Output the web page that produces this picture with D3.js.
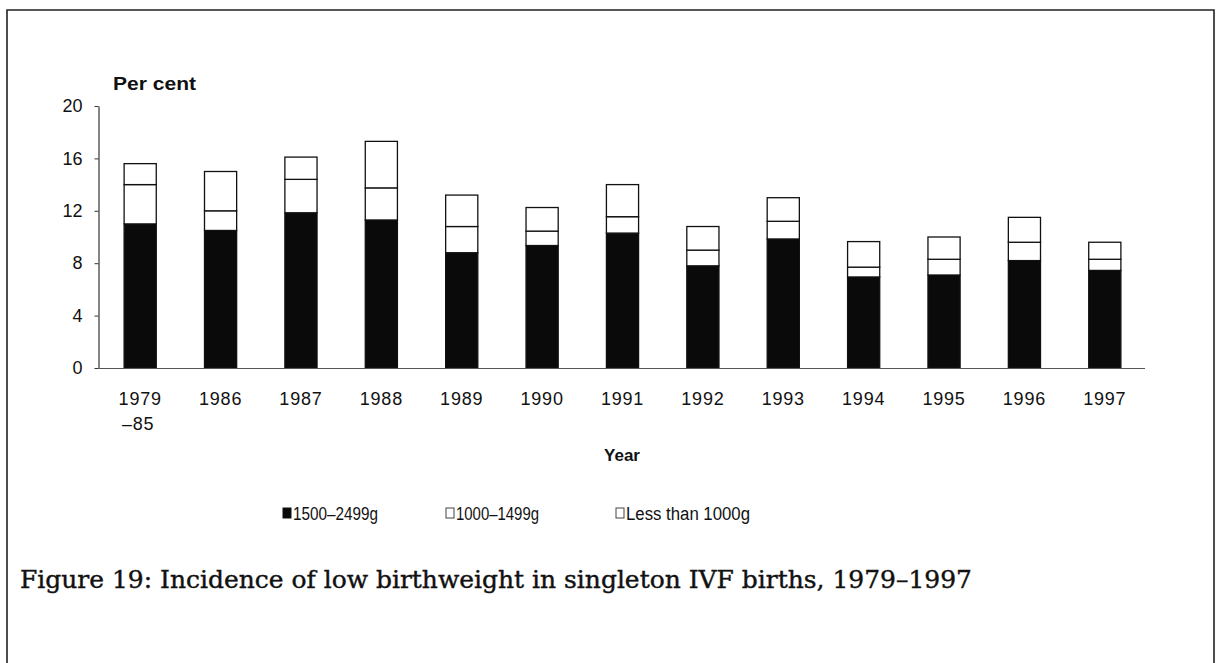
<!DOCTYPE html>
<html>
<head>
<meta charset="utf-8">
<script src="https://cdn.jsdelivr.net/npm/d3@7"></script>
<style>
html,body{margin:0;padding:0;background:#fff;}
svg{display:block;}
</style>
</head>
<body>
<svg id="chart" width="1216" height="663"></svg>
<script>
// ---- data ----
const categories = ["1979–85","1986","1987","1988","1989","1990","1991","1992","1993","1994","1995","1996","1997"];
const tickLines = [["1979","–85"],["1986"],["1987"],["1988"],["1989"],["1990"],["1991"],["1992"],["1993"],["1994"],["1995"],["1996"],["1997"]];
const seriesNames = ["1500–2499g","1000–1499g","Less than 1000g"];
const w1500_2499 = [11.0,10.5,11.85,11.3,8.8,9.35,10.3,7.8,9.85,6.95,7.1,8.2,7.45];
const w1000_1499 = [3.0,1.5,2.55,2.45,2.0,1.1,1.25,1.2,1.35,0.75,1.2,1.4,0.85];
const wUnder1000 = [1.6,3.0,1.7,3.55,2.4,1.8,2.45,1.8,1.8,1.95,1.7,1.9,1.3];
const yTicks = [0,4,8,12,16,20];
const yLabel = "Per cent";
const xLabel = "Year";
const title = "Figure 19:  Incidence of low birthweight in singleton IVF births, 1979–1997";

// ---- chart ----
const svg = d3.select("#chart");
const sans = "'Liberation Sans', Arial, sans-serif";
const serif = "'DejaVu Serif', 'Liberation Serif', serif";

// frame
svg.append("path")
  .attr("d","M7,663 L7,10 L1214,10 L1214,663")
  .attr("fill","none").attr("stroke","#222").attr("stroke-width",1.6);

const x = d3.scaleBand().domain(categories).range([100,1145]).paddingInner(0.6).paddingOuter(0.3);
const y = d3.scaleLinear().domain([0,20]).range([368,106]);

const rows = categories.map((c,i)=>({cat:c, a:w1500_2499[i], b:w1000_1499[i], c:wUnder1000[i]}));
const stack = d3.stack().keys(["a","b","c"])(rows);
const fills = ["#0a0a0a","#ffffff","#ffffff"];

const g = svg.append("g");
stack.forEach((layer,li)=>{
  g.selectAll(null).data(layer).enter().append("rect")
    .attr("x",d=>x(d.data.cat))
    .attr("width",x.bandwidth())
    .attr("y",d=>y(d[1]))
    .attr("height",d=>y(d[0])-y(d[1]))
    .attr("fill",fills[li])
    .attr("stroke","#111")
    .attr("stroke-width",1.3);
});

// y axis
const yAxis = svg.append("g").attr("transform","translate(98.5,0)")
  .call(d3.axisLeft(y).tickValues(yTicks).tickSize(4).tickSizeOuter(0).tickPadding(12));
yAxis.select(".domain").attr("stroke","#333").attr("stroke-width",1.2);
yAxis.selectAll(".tick line").attr("stroke","#333");
yAxis.selectAll("text").attr("font-family",sans).attr("font-size",18).attr("fill","#111");

// x axis baseline
const xAxis = svg.append("g").attr("transform","translate(0,368)")
  .call(d3.axisBottom(x).tickSize(0).tickFormat(""));
xAxis.select(".domain").attr("d","M98.5,0.5H1145").attr("stroke","#555").attr("stroke-width",1.2);
xAxis.selectAll(".tick").each(function(d,i){
  const t = d3.select(this).select("text").text(null)
    .attr("y",0).attr("dy",null)
    .attr("font-family",sans).attr("font-size",18).attr("fill","#111").attr("letter-spacing",0.8);
  tickLines[i].forEach((ln,k)=>{
    t.append("tspan").attr("x",k===0?0:-2).attr("y",37+k*25).text(ln);
  });
});

// axis titles
svg.append("text").attr("x",113).attr("y",90)
  .attr("font-family",sans).attr("font-weight","bold").attr("font-size",18).attr("fill","#111")
  .attr("textLength",83).attr("lengthAdjust","spacingAndGlyphs")
  .text(yLabel);
svg.append("text").attr("x",622).attr("y",461).attr("text-anchor","middle")
  .attr("font-family",sans).attr("font-weight","bold").attr("font-size",17).attr("fill","#111")
  .text(xLabel);

// legend
const legX = [283,446,616];
const legW = [85,83,124];
const leg = svg.append("g");
seriesNames.forEach((s,i)=>{
  leg.append("rect").attr("x",legX[i]).attr("y",508).attr("width",8).attr("height",10)
    .attr("fill",fills[i]).attr("stroke",i===0?"#111":"#444").attr("stroke-width",1);
  leg.append("text").attr("x",legX[i]+10).attr("y",520)
    .attr("font-family",sans).attr("font-size",18).attr("fill","#111")
    .attr("textLength",legW[i]).attr("lengthAdjust","spacingAndGlyphs").text(s);
});

// figure title
svg.append("text").attr("x",20).attr("y",588)
  .attr("font-family",serif).attr("font-size",23.5).attr("fill","#111")
  .attr("stroke","#111").attr("stroke-width",0.4)
  .attr("textLength",952).attr("lengthAdjust","spacingAndGlyphs")
  .text(title);
</script>
</body>
</html>
